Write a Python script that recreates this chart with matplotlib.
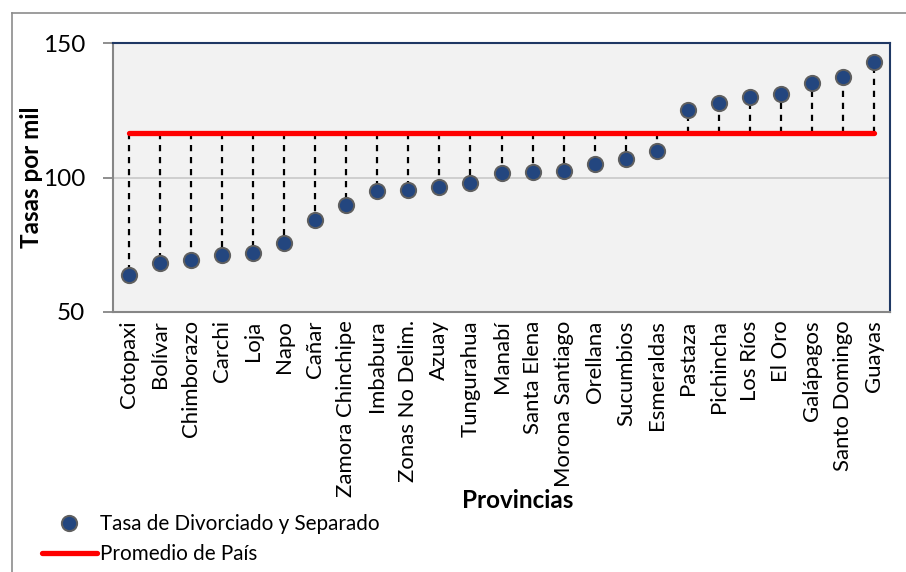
import numpy as np
import matplotlib
matplotlib.use("Agg")
import matplotlib.pyplot as plt
from matplotlib.lines import Line2D

# data
provincias = ['Cotopaxi', 'Bolívar', 'Chimborazo', 'Carchi', 'Loja', 'Napo', 'Cañar',
              'Zamora Chinchipe', 'Imbabura', 'Zonas No Delim.', 'Azuay', 'Tungurahua',
              'Manabí', 'Santa Elena', 'Morona Santiago', 'Orellana', 'Sucumbios',
              'Esmeraldas', 'Pastaza', 'Pichincha', 'Los Ríos', 'El Oro', 'Galápagos',
              'Santo Domingo', 'Guayas']
tasas = [63.9, 68.2, 69.5, 71.3, 72.1, 75.7, 84.1, 89.7, 95.0, 95.5, 96.5, 98.0,
         101.7, 102.2, 102.6, 105.2, 106.7, 110.0, 125.2, 127.6, 130.1, 130.9,
         135.1, 137.4, 143.1]
promedio = 116.7
y_ticks = [50, 100, 150]

plt.rcParams['font.family'] = ['Lato', 'DejaVu Sans']

fig = plt.figure(figsize=(9.06, 5.72), dpi=100)
ax = fig.add_axes([113/906, 1-312/572, (890-113)/906, (312-43)/572])
ax.set_facecolor('#f2f2f2')

x = np.arange(len(provincias))
avg = np.full(len(provincias), promedio)

# drop lines from the average to each value
ax.vlines(x, avg, tasas, colors='black', linewidth=1.6, linestyles=(0, (2.8, 2.6)), zorder=2)
ax.plot(x, avg, color='#ff0000', linewidth=3.8, solid_capstyle='round', zorder=3,
        label='Promedio de País')
ax.plot(x, tasas, 'o', markersize=11, markerfacecolor='#23467f', markeredgecolor='#5f5f5f',
        markeredgewidth=1.4, linestyle='none', zorder=4, label='Tasa de Divorciado y Separado')

ax.set_xlim(-0.5, len(provincias) - 0.5)
ax.set_ylim(50, 150)
ax.set_yticks(y_ticks)
ax.set_xticks(x)
ax.set_xticklabels(provincias, rotation=90, fontsize=15.9)
ax.tick_params(axis='x', length=0, pad=6)
ax.tick_params(axis='y', length=7, width=1.3, color='#868686', pad=13, labelsize=17.5)
ax.axhline(100, color='#c8c8c8', linewidth=1.2, zorder=1)

for s in ['left', 'bottom']:
    ax.spines[s].set_color('#868686')
    ax.spines[s].set_linewidth(1.5)
for s in ['top', 'right']:
    ax.spines[s].set_color('#1f3864')
    ax.spines[s].set_linewidth(1.5)

ax.set_ylabel('Tasas por mil', fontsize=17.5, fontweight='bold')
ax.yaxis.set_label_coords((43-113)/777, 0.5)
fig.text(518/906, 1-500/572, 'Provincias', fontsize=17.5, fontweight='bold', ha='center', va='center')

# chart frame (only left and top edges visible)
fig.add_artist(Line2D([12/906, 12/906], [0, 1-13/572], color='#8c8c8c', linewidth=1.2,
                      transform=fig.transFigure))
fig.add_artist(Line2D([12/906, 1], [1-13/572, 1-13/572], color='#8c8c8c', linewidth=1.2,
                      transform=fig.transFigure))

h, l = ax.get_legend_handles_labels()
fig.legend(h[::-1], l[::-1], loc='center left', bbox_to_anchor=(42/906, 1-539/572),
           frameon=False, fontsize=14.9, handlelength=2.65, handletextpad=0.15,
           labelspacing=0.5, borderpad=0, borderaxespad=0)

fig.savefig('out.png', dpi=100)
